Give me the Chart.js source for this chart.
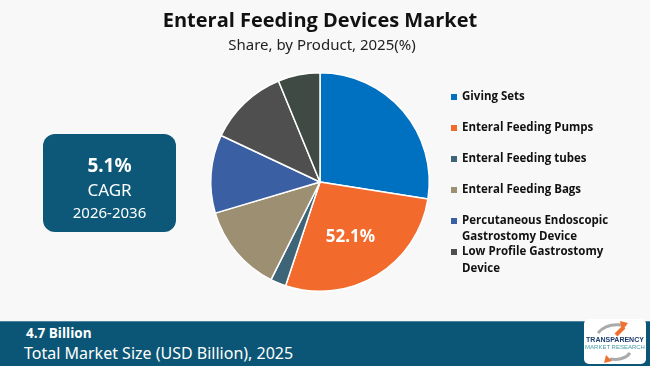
<!DOCTYPE html>
<html><head><meta charset="utf-8">
<script src="https://cdn.jsdelivr.net/npm/chart.js@4"></script>
<style>
html,body{margin:0;padding:0;background:#f8f8f8;width:650px;height:366px;overflow:hidden;font-family:"Open Sans",sans-serif;}
#wrap{position:relative;width:650px;height:366px;}
canvas{position:absolute;left:0;top:0;}
.abs{position:absolute;white-space:nowrap;}
#title{left:0;width:640px;top:6px;text-align:center;font:bold 20px "Open Sans",sans-serif;color:#111;}
#sub{left:0;width:644px;top:34px;text-align:center;font:15px "Noto Sans",sans-serif;color:#222;}
#cagr{left:43px;top:134px;width:133px;height:98px;background:#0d5878;border-radius:12px;color:#fff;text-align:center;}
#bar{left:0;top:321px;width:650px;height:45px;background:#0b5676;border-top:1px solid #4d85a0;}
#legend{left:451px;top:88px;font:bold 11.5px "Open Sans",sans-serif;color:#111;}
.li{position:absolute;left:0;}
.sw{position:absolute;left:0;top:6px;width:6px;height:6px;}
.lt{position:absolute;left:11px;top:0;line-height:16.6px;white-space:nowrap;}
#logo{left:584px;top:319px;width:62px;height:45px;background:#fff;border-radius:5px;}
</style></head>
<body><div id="wrap">
<canvas id="c" width="650" height="366"></canvas>
<div id="title" class="abs">Enteral Feeding Devices Market</div>
<div id="sub" class="abs">Share, by Product, 2025(%)</div>
<div id="cagr" class="abs">
  <div style="position:absolute;top:18px;width:133px;font:bold 19px 'Noto Sans',sans-serif;">5.1%</div>
  <div style="position:absolute;top:44px;width:133px;font:17px 'Noto Sans',sans-serif;">CAGR</div>
  <div style="position:absolute;top:68px;width:133px;font:15px 'Noto Sans',sans-serif;">2026-2036</div>
</div>
<div id="bar" class="abs">
  <div class="abs" style="left:26px;top:2px;color:#fff;font:bold 13.5px 'Open Sans',sans-serif;">4.7 Billion</div>
  <div class="abs" style="left:24px;top:20px;color:#fff;font:16px 'Noto Sans',sans-serif;">Total Market Size (USD Billion), 2025</div>
</div>
<div id="logo" class="abs">
  <svg width="62" height="45" viewBox="0 0 62 45">
    <path d="M14 14 Q22 4 38 6" stroke="#aaa" stroke-width="3" fill="none"/>
    <polygon points="36,2 44,4 38,12" fill="#f07030"/>
    <path d="M40 8 L32 16" stroke="#f07030" stroke-width="4"/>
    <path d="M46 34 Q40 42 26 40" stroke="#aaa" stroke-width="3" fill="none"/>
    <polygon points="22,36 20,44 28,42" fill="#f07030"/>
    <text x="31" y="23" text-anchor="middle" font-family="Liberation Sans" font-weight="bold" font-size="7" fill="#1c3d6e">TRANSPARENCY</text>
    <text x="31" y="30" text-anchor="middle" font-family="Liberation Sans" font-size="6" fill="#4a9aa8">MARKET RESEARCH</text>
  </svg>
</div>
<div id="legend" class="abs"></div>
</div>
<script>
const categories = ["Giving Sets","Enteral Feeding Pumps","Enteral Feeding tubes","Enteral Feeding Bags","Percutaneous Endoscopic Gastrostomy Device","Low Profile Gastrostomy Device","Others"];
const legendLabels = [["Giving Sets"],["Enteral Feeding Pumps"],["Enteral Feeding tubes"],["Enteral Feeding Bags"],["Percutaneous Endoscopic","Gastrostomy Device"],["Low Profile Gastrostomy","Device"]];
const shares = [27.5, 27.6, 2.3, 13.0, 11.6, 11.8, 6.2];
const colors = ["#0070c0","#f26a2c","#3e6577","#9c8f72","#3b5fa3","#4f4f4f","#3e4a43"];
const highlightLabel = "52.1%";
const legendTops = [0, 31, 62, 92.6, 123.6, 155];

const lg = document.getElementById('legend');
legendLabels.forEach((lines,i)=>{
  const d=document.createElement('div');d.className='li';d.style.top=legendTops[i]+'px';
  d.innerHTML='<div class="sw" style="background:'+colors[i]+'"></div><div class="lt">'+lines.join('<br>')+'</div>';
  lg.appendChild(d);
});

const labelPlugin={id:'lbl',afterDatasetsDraw(chart){
  const arc=chart.getDatasetMeta(0).data[1];
  const p=arc.tooltipPosition();
  const ctx=chart.ctx;ctx.save();
  ctx.fillStyle='#fff';ctx.font='bold 17px "Noto Sans",sans-serif';
  ctx.textAlign='center';ctx.textBaseline='middle';
  ctx.fillText(highlightLabel,p.x+2,p.y+8);ctx.restore();
}};

new Chart(document.getElementById('c'),{
  type:'pie',
  data:{labels:categories,datasets:[{data:shares,backgroundColor:colors,borderColor:'#ffffff',borderWidth:1.5}]},
  options:{responsive:false,animation:false,
    layout:{padding:{left:210,right:220,top:72,bottom:74}},
    plugins:{legend:{display:false},tooltip:{enabled:false}}},
  plugins:[labelPlugin]
});
</script>
</body></html>
